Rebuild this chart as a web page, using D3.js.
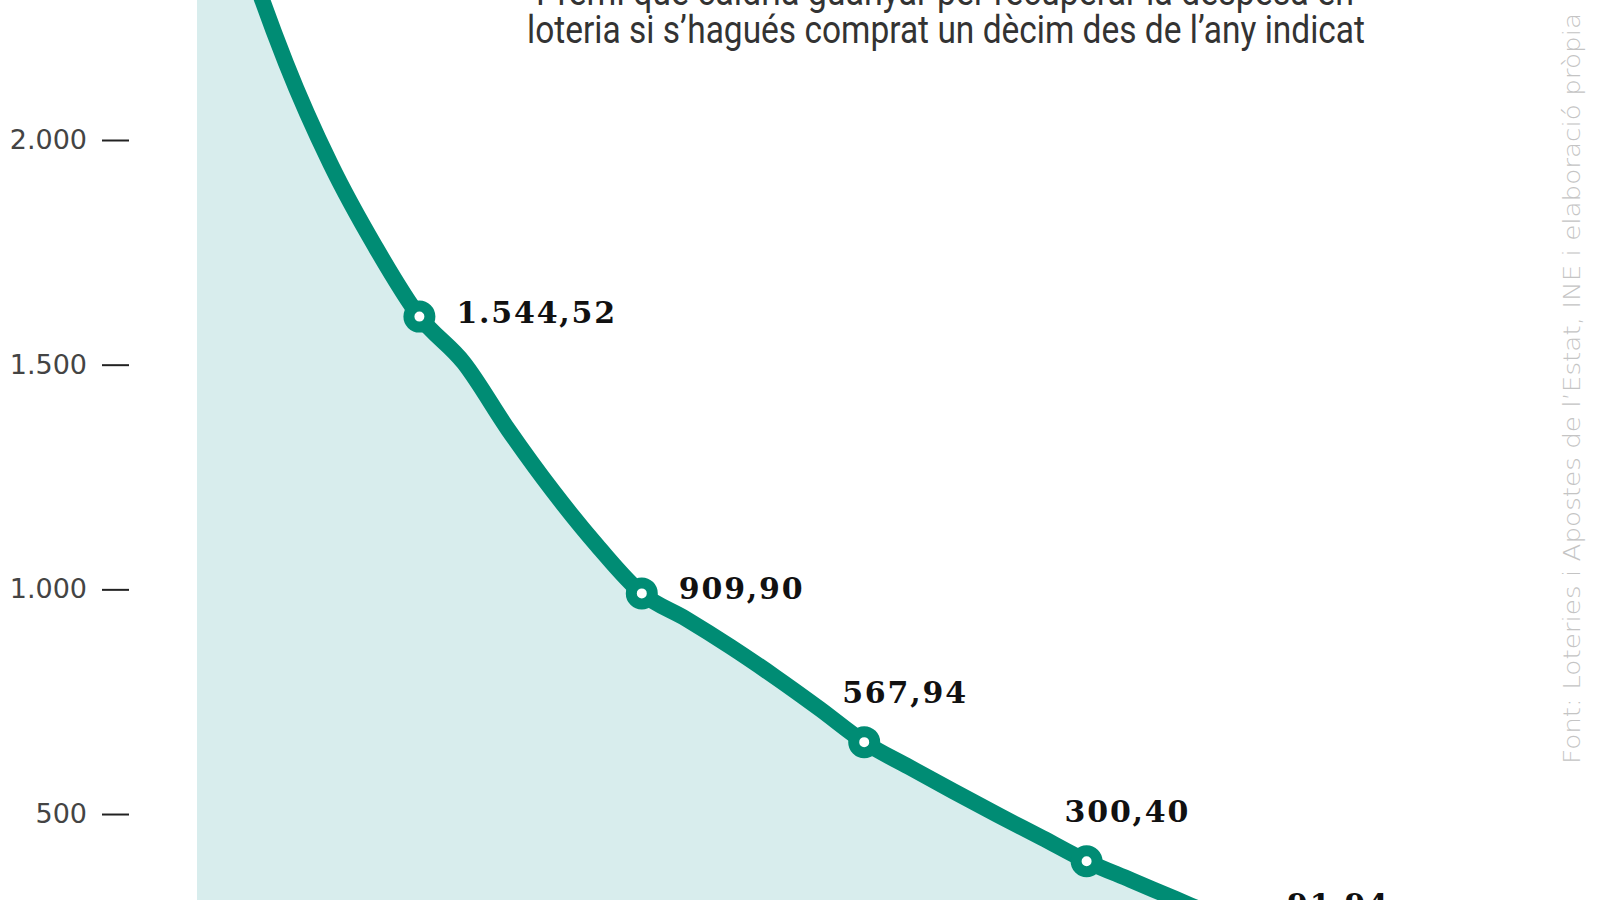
<!DOCTYPE html>
<html>
<head>
<meta charset="utf-8">
<script src="https://cdn.jsdelivr.net/npm/d3@7"></script>
<style>
  body { margin: 0; background: #fff; }
</style>
</head>
<body>
<div id="chart"></div>
<script>
// Dades: premi (en euros) per any, llegit del gràfic
const years = [1980, 1981, 1982, 1983, 1984, 1985, 1986, 1987, 1988, 1989,
               1990, 1991, 1992, 1993, 1994, 1995, 1996, 1997, 1998, 1999,
               2000, 2001, 2002, 2003, 2004, 2005];
const values = [2793, 2448, 2171, 1947, 1764, 1607, 1504, 1355, 1219, 1097,
                991, 934, 872, 805, 734, 660, 605, 551, 498, 447,
                395, 353, 311, 269, 229, 189];

// Punts destacats i el valor que porten escrit
const markerYears = [1985, 1990, 1995, 2000, 2005];
const markerLabels = [1544.52, 909.90, 567.94, 300.40, 91.94];

const yTicks = [500, 1000, 1500, 2000, 2500];

const titleLines = [
    "Premi que caldria guanyar per recuperar la despesa en",
    "loteria si s\u2019hagués comprat un dècim des de l\u2019any indicat"
];
const sourceText = "Font: Loteries i Apostes de l\u2019Estat, INE i elaboració pròpia";

(function () {

    const width = 1600;
    const height = 900;
    const teal = "#008c74";

    // format català: 1.544,52
    const ca = d3.formatLocale({ decimal: ",", thousands: ".", grouping: [3], currency: ["", " €"] });
    const fmtTick = ca.format(",.0f");
    const fmtLabel = ca.format(",.2f");

    const svg = d3.select("#chart")
        .append("svg")
        .attr("width", width)
        .attr("height", height)
        .style("display", "block");

    const x = d3.scaleLinear()
        .domain([1980, 2005])
        .range([197, 1309]);

    const y = d3.scaleLinear()
        .domain([0, 2000])
        .range([1038.7, 140]);

    const data = years.map((yr, i) => ({ year: yr, value: values[i] }));

    // Àrea sota la corba
    const area = d3.area()
        .x(d => x(d.year))
        .y0(y(0))
        .y1(d => y(d.value))
        .curve(d3.curveMonotoneX);

    svg.append("path")
        .datum(data)
        .attr("d", area)
        .attr("fill", "#d8eded");

    // Eix Y
    const yAxis = d3.axisLeft(y)
        .tickValues(yTicks)
        .tickSize(27)
        .tickPadding(15)
        .tickFormat(fmtTick);

    const gy = svg.append("g")
        .attr("transform", "translate(129,0)")
        .call(yAxis);

    gy.select(".domain").remove();
    gy.selectAll(".tick line")
        .attr("stroke", "#222")
        .attr("stroke-width", 2);
    gy.selectAll(".tick text")
        .attr("fill", "#444")
        .style("font-family", "'DejaVu Sans', sans-serif")
        .style("font-size", "27px");

    // Línia
    const line = d3.line()
        .x(d => x(d.year))
        .y(d => y(d.value))
        .curve(d3.curveMonotoneX);

    svg.append("path")
        .datum(data)
        .attr("d", line)
        .attr("fill", "none")
        .attr("stroke", teal)
        .attr("stroke-width", 16)
        .attr("stroke-linejoin", "round");

    // Marcadors
    const marks = markerYears.map((yr, i) => ({
        year: yr,
        value: values[years.indexOf(yr)],
        label: markerLabels[i]
    }));

    svg.selectAll(".marker")
        .data(marks)
        .enter()
        .append("circle")
        .attr("class", "marker")
        .attr("cx", d => x(d.year))
        .attr("cy", d => y(d.value))
        .attr("r", 10.5)
        .attr("fill", "#fff")
        .attr("stroke", teal)
        .attr("stroke-width", 11);

    // Etiquetes: les dues primeres a la dreta, la resta a sobre
    svg.selectAll(".label")
        .data(marks)
        .enter()
        .append("text")
        .attr("class", "label")
        .attr("x", (d, i) => i < 2 ? x(d.year) + 37 : x(d.year) - 22)
        .attr("y", (d, i) => i < 2 ? y(d.value) + 6 : y(d.value) - 39)
        .attr("fill", "#111")
        .style("font-family", "'DejaVu Serif', serif")
        .style("font-weight", "bold")
        .style("font-size", "30px")
        .style("letter-spacing", "1.8px")
        .text(d => fmtLabel(d.label));

    // Títol
    const titleX = [536, 527];
    const titleW = [818, 838];
    const titleY = [5, 43];

    svg.selectAll(".title")
        .data(titleLines)
        .enter()
        .append("text")
        .attr("class", "title")
        .attr("x", (d, i) => titleX[i])
        .attr("y", (d, i) => titleY[i])
        .attr("textLength", (d, i) => titleW[i])
        .attr("lengthAdjust", "spacingAndGlyphs")
        .attr("fill", "#333")
        .style("font-family", "Roboto, 'DejaVu Sans Condensed', sans-serif")
        .style("font-weight", "400")
        .style("font-size", "38px")
        .text(d => d);

    // Font (vertical)
    svg.append("text")
        .attr("transform", "translate(1580,764) rotate(-90)")
        .attr("textLength", 751)
        .attr("lengthAdjust", "spacingAndGlyphs")
        .attr("fill", "#c4c4c4")
        .style("font-family", "'DejaVu Sans', sans-serif")
        .style("font-weight", "200")
        .style("font-size", "23px")
        .text(sourceText);

})();
</script>
</body>
</html>
